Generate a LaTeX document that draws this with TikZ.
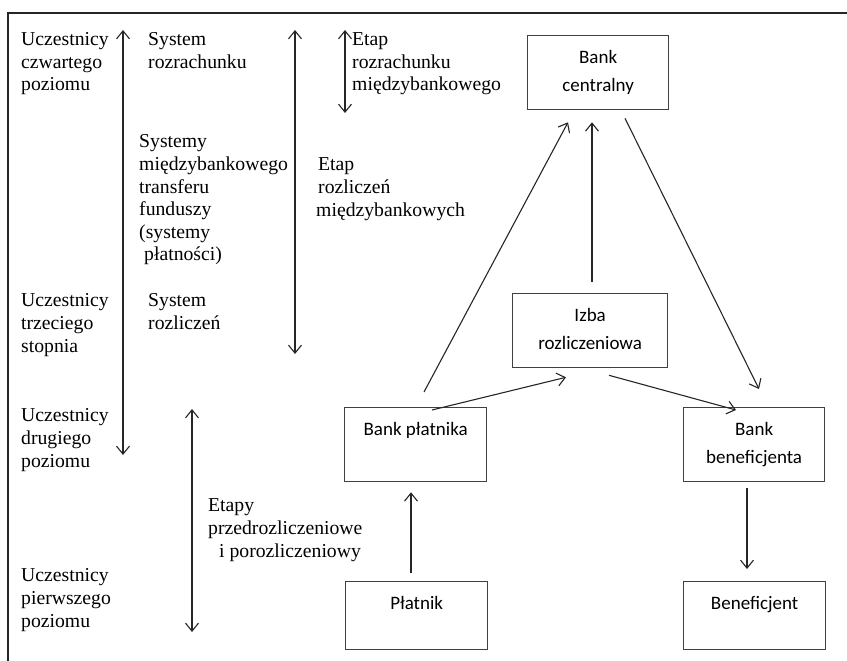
\documentclass[tikz,border=0pt]{standalone}
\usepackage{fontspec}
\setmainfont{Liberation Serif}
\newfontfamily\boxfont{Carlito}
\usetikzlibrary{arrows.meta,calc}
\newcommand\fl{\rule{0pt}{14pt}}
\newcommand\boxtext[3]{\begin{minipage}[t][#2pt][t]{#1pt}\centering\boxfont\fontsize{19}{28}\selectfont\rule{0pt}{28pt}#3\end{minipage}}
\begin{document}
\begin{tikzpicture}[x=1pt,y=-1pt,
 txt/.style={anchor=north west, inner sep=0pt, align=left, font=\fontsize{19.7}{22.6}\selectfont},
 box/.style={draw=black!75, line width=1.3pt, inner sep=0pt, anchor=north west},
 tip/.tip={Straight Barb[length=8pt,width=13pt]},
 conn/.style={-tip, line width=1.1pt, draw=black!85},
 dbl/.style={tip-tip, line width=1.1pt, draw=black!85}]
\useasboundingbox (0,0) rectangle (847,661);
% frame
\draw[line width=1.5pt, black!85] (847,13) -- (8,13) -- (8,661);

% left texts
\node[txt] (a1) at (21,31.5) {\fl Uczestnicy\\czwartego\\poziomu};
\node[txt] (s1) at (148,31.5) {\fl System\\rozrachunku};
\node[txt] (e1) at (352,31.5) {\fl Etap\\rozrachunku\\międzybankowego};
\node[txt] (sm) at (139,133.7) {\fl Systemy\\międzybankowego\\transferu\\funduszy\\(systemy\\\hspace{5pt}płatności)};
\node[txt] (e2) at (318,156.7) {\fl Etap\\rozliczeń\\\hspace{-2pt}międzybankowych};
\node[txt] (a2) at (21,292.7) {\fl Uczestnicy\\trzeciego\\stopnia};
\node[txt] (s2) at (148,292.7) {\fl System\\rozliczeń};
\node[txt] (a3) at (21,407.7) {\fl Uczestnicy\\drugiego\\poziomu};
\node[txt] (e3) at (208,497.7) {\fl Etapy\\przedrozliczeniowe\\\hspace{11pt}i porozliczeniowy};
\node[txt] (a4) at (21,567.7) {\fl Uczestnicy\\pierwszego\\poziomu};

% double arrows
\coordinate (d1t) at (123,30); \coordinate (d1b) at (123,455);
\coordinate (d2t) at (295,30); \coordinate (d2b) at (295,354);
\coordinate (d3t) at (345,30); \coordinate (d3b) at (345,113);
\coordinate (d4t) at (192,409); \coordinate (d4b) at (192,632);
\draw[dbl] (d1t) -- (d1b);
\draw[dbl] (d2t) -- (d2b);
\draw[dbl] (d3t) -- (d3b);
\draw[dbl] (d4t) -- (d4b);

% boxes
\node[box] (bc) at (527,35) {\boxtext{141}{74}{Bank\\centralny}};
\node[box] (iz) at (512,293) {\boxtext{155}{74}{Izba\\rozliczeniowa}};
\node[box] (bp) at (344,407) {\boxtext{142}{74}{Bank płatnika}};
\node[box] (bb) at (683,407) {\boxtext{141}{74}{Bank\\beneficjenta}};
\node[box] (pl) at (345,581) {\boxtext{142}{68}{Płatnik}};
\node[box] (be) at (683,581) {\boxtext{142}{68}{Beneficjent}};

% connectors
\draw[conn] ($(bp.north west)+(80,-15)$) -- ($(bc.south west)+(41,12)$);
\draw[conn] ($(iz.north west)+(80,-11)$) -- ($(bc.south west)+(65,12)$);
\draw[conn] ($(bc.south west)+(98,8)$) -- ($(bb.north west)+(76,-18)$);
\draw[conn] ($(bp.north west)+(88,3)$) -- ($(iz.south west)+(54,9)$);
\draw[conn] ($(iz.south west)+(97,7)$) -- ($(bb.north west)+(53,3)$);
\draw[conn] ($(pl.north west)+(66,-8)$) -- ($(bp.south west)+(67,10)$);
\draw[conn] ($(bb.south west)+(64,6)$) -- ($(be.north west)+(64,-12)$);
\end{tikzpicture}
\end{document}
